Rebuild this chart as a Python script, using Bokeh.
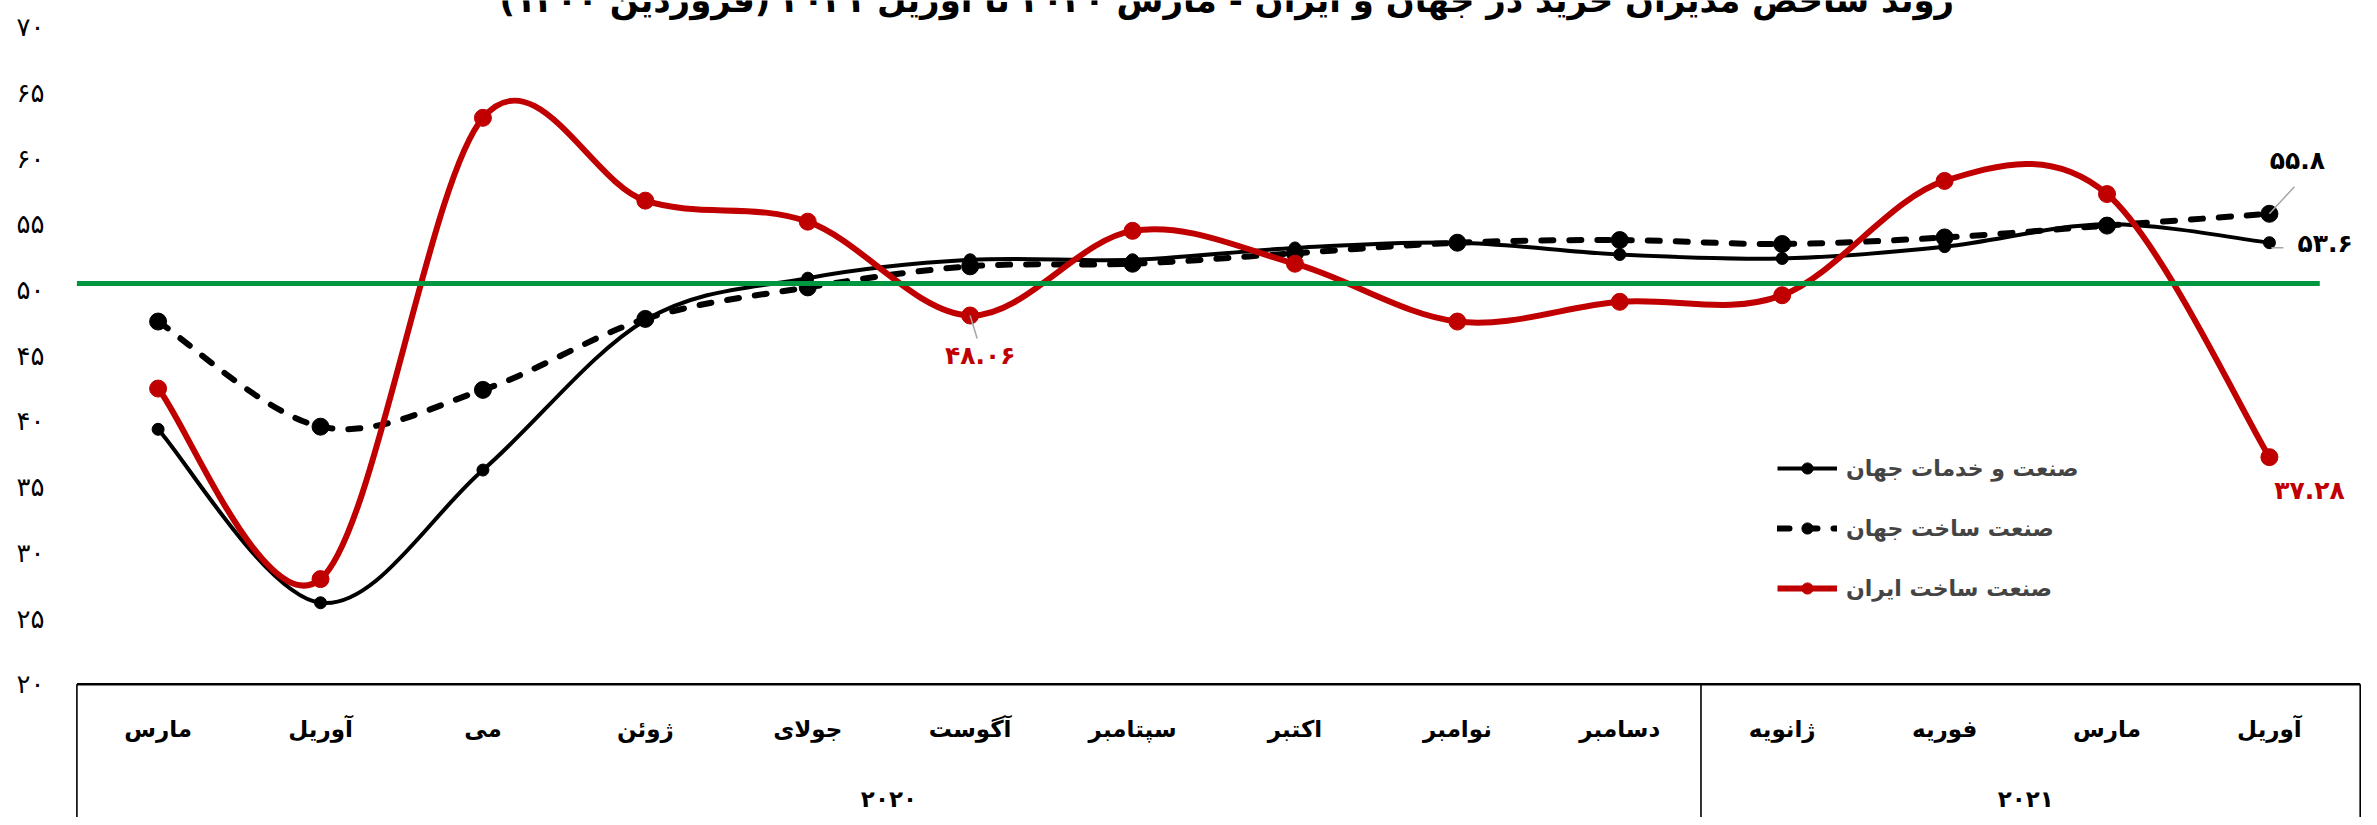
from bokeh.plotting import figure
from bokeh.models import Range1d, FixedTicker, Legend, LegendItem, ColumnDataSource
from bokeh.core.properties import value
from bokeh.embed import file_html
from bokeh.resources import INLINE

# ---------------- data ----------------
title = "روند شاخص مدیران خرید در جهان و ایران - مارس ۲۰۲۰ تا آوریل ۲۰۲۱ (فروردین ۱۴۰۰)"
months = ["مارس", "آوریل", "می", "ژوئن", "جولای", "آگوست", "سپتامبر",
          "اکتبر", "نوامبر", "دسامبر", "ژانویه", "فوریه", "مارس", "آوریل"]
years = ["۲۰۲۰", "۲۰۲۱"]
year_counts = [10, 4]

series_names = ["صنعت و خدمات جهان", "صنعت ساخت جهان", "صنعت ساخت ایران"]
world_composite = [39.4, 26.2, 36.3, 47.7, 50.9, 52.3, 52.3, 53.2, 53.6, 52.7, 52.4, 53.3, 55.0, 53.6]
world_manufacturing = [47.6, 39.6, 42.4, 47.8, 50.2, 51.8, 52.0, 52.8, 53.6, 53.8, 53.5, 54.0, 54.9, 55.8]
iran_manufacturing = [42.5, 28.0, 63.1, 56.8, 55.2, 48.06, 54.5, 52.0, 47.6, 49.1, 49.6, 58.3, 57.3, 37.28]
threshold_line = 50.5

y_ticks = [20, 25, 30, 35, 40, 45, 50, 55, 60, 65, 70]
y_tick_labels = ["۲۰", "۲۵", "۳۰", "۳۵", "۴۰", "۴۵", "۵۰", "۵۵", "۶۰", "۶۵", "۷۰"]

labels_world_manufacturing = "۵۵.۸"
labels_world_composite = "۵۳.۶"
label_iran_last = "۳۷.۲۸"
label_iran_aug = "۴۸.۰۶"

# ---------------- helpers ----------------
FONT = "DejaVu Sans"
RED = "#c00000"
GREEN = "#00953f"
GREY = "#a6a6a6"

n = len(months)
xs = [i + 0.5 for i in range(n)]


def bezier_source(xv, yv, k=1.0 / 6.0):
    d = dict(x0=[], y0=[], x1=[], y1=[], cx0=[], cy0=[], cx1=[], cy1=[])
    m = len(xv)
    for i in range(m - 1):
        a = max(i - 1, 0)
        b = min(i + 2, m - 1)
        d["x0"].append(xv[i]); d["y0"].append(yv[i])
        d["x1"].append(xv[i + 1]); d["y1"].append(yv[i + 1])
        d["cx0"].append(xv[i] + (xv[i + 1] - xv[a]) * k)
        d["cy0"].append(yv[i] + (yv[i + 1] - yv[a]) * k)
        d["cx1"].append(xv[i + 1] - (xv[b] - xv[i]) * k)
        d["cy1"].append(yv[i + 1] - (yv[b] - yv[i]) * k)
    return ColumnDataSource(d)


p = figure(width=2361, height=817, output_backend="svg", toolbar_location=None,
           x_range=Range1d(-0.0148, 14.067), y_range=Range1d(9.86, 72.03),
           x_axis_location=None, min_border_left=74, min_border_right=0,
           min_border_top=0, min_border_bottom=0)
p.outline_line_color = None
p.grid.visible = False
p.background_fill_color = "white"
p.border_fill_color = "white"

ax = p.yaxis[0]
ax.ticker = FixedTicker(ticks=y_ticks)
ax.major_label_overrides = {t: l for t, l in zip(y_ticks, y_tick_labels)}
ax.axis_line_color = None
ax.major_tick_line_color = None
ax.minor_tick_line_color = None
ax.major_tick_out = 0
ax.major_tick_in = 0
ax.major_label_standoff = 30
ax.major_label_text_font = FONT
ax.major_label_text_font_size = "26px"
ax.major_label_text_color = "black"

# ---------------- category box ----------------
y_min = y_ticks[0]
x_right = p.x_range.end - 0.008
p.segment(x0=[0], y0=[y_min], x1=[x_right], y1=[y_min], line_color="black", line_width=2.5)
bounds = [0]
for c in year_counts:
    bounds.append(bounds[-1] + c)
vlines = bounds[:-1] + [x_right]
p.segment(x0=vlines, y0=[y_min] * len(vlines), x1=vlines, y1=[p.y_range.start] * len(vlines),
          line_color="black", line_width=1.6)

p.text(x=xs, y=[16.63] * n, text=months, text_font=value(FONT), text_font_style="bold",
       text_font_size="23px", text_align="center", text_baseline="middle", text_color="black")
year_x = [(bounds[i] + bounds[i + 1]) / 2 for i in range(len(years))]
p.text(x=year_x, y=[11.23] * len(years), text=years, text_font=value(FONT), text_font_style="bold",
       text_font_size="23px", text_align="center", text_baseline="middle", text_color="black")

# ---------------- series ----------------
r_comp = p.bezier(x0="x0", y0="y0", x1="x1", y1="y1", cx0="cx0", cy0="cy0", cx1="cx1", cy1="cy1",
                  source=bezier_source(xs, world_composite), line_color="black", line_width=4)
r_comp_p = p.scatter(xs, world_composite, size=12, color="black")

r_man = p.bezier(x0="x0", y0="y0", x1="x1", y1="y1", cx0="cx0", cy0="cy0", cx1="cx1", cy1="cy1",
                 source=bezier_source(xs, world_manufacturing), line_color="black", line_width=6,
                 line_dash="12 16", line_cap="round")
r_man_p = p.scatter(xs, world_manufacturing, size=17, color="black")

r_iran = p.bezier(x0="x0", y0="y0", x1="x1", y1="y1", cx0="cx0", cy0="cy0", cx1="cx1", cy1="cy1",
                  source=bezier_source(xs, iran_manufacturing), line_color=RED, line_width=6)
r_iran_p = p.scatter(xs, iran_manufacturing, size=17, color=RED)

# threshold line
p.segment(x0=[0], y0=[threshold_line], x1=[xs[-1] + 0.31], y1=[threshold_line],
          line_color=GREEN, line_width=5)

# ---------------- data labels + leaders ----------------
last = n - 1
aug = iran_manufacturing.index(48.06)
px_x = 1 / 162.4
px_y = 1 / 13.14
p.segment(x0=[xs[last], xs[last] + 2 * px_x, xs[aug]],
          y0=[world_manufacturing[last], world_composite[last] - 5 * px_y, iran_manufacturing[aug]],
          x1=[xs[last] + 25 * px_x, xs[last] + 14 * px_x, xs[aug] + 7 * px_x],
          y1=[world_manufacturing[last] + 27 * px_y, world_composite[last] - 5 * px_y,
              iran_manufacturing[aug] - 23 * px_y],
          line_color=GREY, line_width=1.5)

p.text(x=[xs[last]], y=[world_manufacturing[last]], text=[labels_world_manufacturing],
       x_offset=28, y_offset=-53, text_font=value(FONT), text_font_style="bold",
       text_font_size="25px", text_align="center", text_baseline="middle", text_color="black")
p.text(x=[xs[last]], y=[world_composite[last]], text=[labels_world_composite],
       x_offset=28, y_offset=1, text_font=value(FONT), text_font_style="bold",
       text_font_size="25px", text_align="left", text_baseline="middle", text_color="black")
p.text(x=[xs[last]], y=[iran_manufacturing[last]], text=[label_iran_last],
       x_offset=40, y_offset=33, text_font=value(FONT), text_font_style="bold",
       text_font_size="25px", text_align="center", text_baseline="middle", text_color=RED)
p.text(x=[xs[aug]], y=[iran_manufacturing[aug]], text=[label_iran_aug],
       x_offset=10, y_offset=40, text_font=value(FONT), text_font_style="bold",
       text_font_size="25px", text_align="center", text_baseline="middle", text_color=RED)

# ---------------- title (cut at the top like the reference) ----------------
p.text(x=[7.08], y=[72.1], text=["\u200f" + title + "\u200f"], text_font=value(FONT),
       text_font_style="bold", text_font_size="34px", text_align="center",
       text_baseline="alphabetic", text_color="black")

# ---------------- legend ----------------
legend = Legend(items=[
    LegendItem(label=series_names[0], renderers=[r_comp, r_comp_p]),
    LegendItem(label=series_names[1], renderers=[r_man, r_man_p]),
    LegendItem(label=series_names[2], renderers=[r_iran, r_iran_p]),
], location=(1703, 215))
legend.background_fill_alpha = 0
legend.border_line_color = None
legend.label_text_font = FONT
legend.label_text_font_style = "bold"
legend.label_text_font_size = "22px"
legend.glyph_width = 60
legend.glyph_height = 28
legend.label_height = 28
legend.spacing = 32
legend.padding = 0
legend.margin = 0
legend.label_standoff = 9
p.add_layout(legend)

open("out.html", "w").write(file_html(p, INLINE))
